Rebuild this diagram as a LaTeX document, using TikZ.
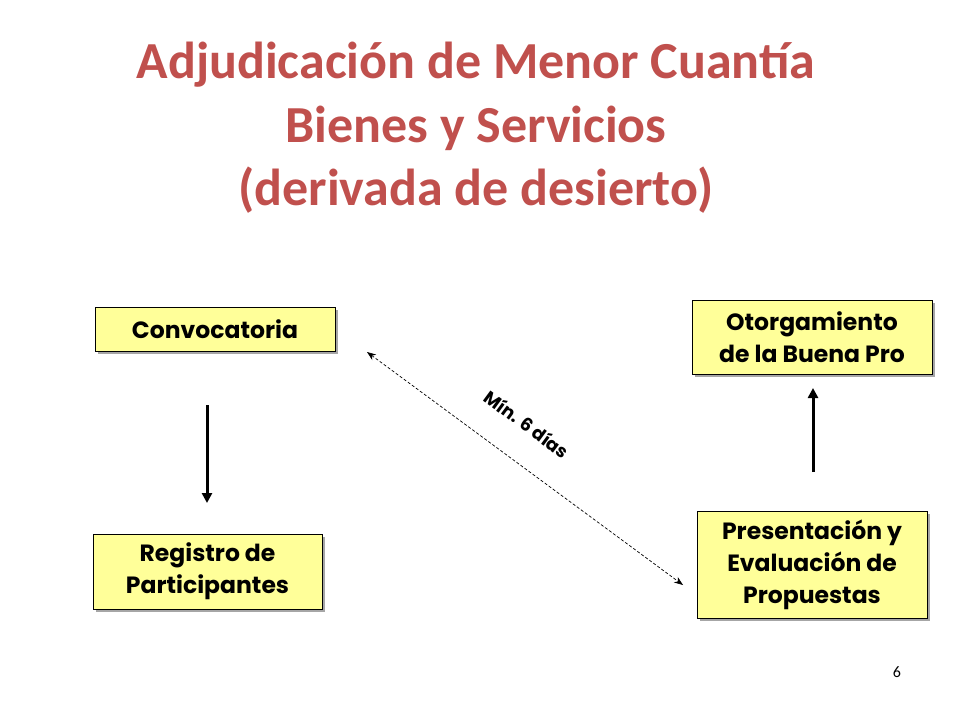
\documentclass[tikz,border=0pt]{standalone}
\usepackage{fontspec}
\setmainfont{Carlito}
\newfontfamily\boxfont{Poppins}
\usetikzlibrary{arrows.meta,shadows}
\definecolor{titlered}{HTML}{C0504D}
\definecolor{boxyellow}{HTML}{FFFF99}
\tikzset{
  stepbox/.style={draw=black,line width=1pt,fill=boxyellow,align=center,
    font=\boxfont\bfseries\fontsize{23.5}{32}\selectfont,inner sep=0pt,
    drop shadow={shadow xshift=3pt,shadow yshift=-3pt,fill=gray!70,opacity=1}},
  bigarrow/.style={line width=3pt,-{Triangle[length=10pt,width=10pt]}},
  dasharrow/.style={densely dashed,line width=0.7pt,{Stealth[length=9pt]}-{Stealth[length=9pt]}},
  titletext/.style={text=titlered,font=\bfseries\fontsize{52}{60}\selectfont}
}
\begin{document}
\begin{tikzpicture}[x=1pt,y=-1pt]
\useasboundingbox (0,0) rectangle (960,720);
\node[titletext] (t1) at (476,65) {Adjudicación de Menor Cuantía};
\node[titletext] (t2) at (476,128) {Bienes y Servicios};
\node[titletext] (t3) at (476,190) {(derivada de desierto)};
\node[stepbox,minimum width=240pt,minimum height=44pt] (conv) at (215,329) {Convocatoria};
\node[stepbox,minimum width=229pt,minimum height=75pt] (reg) at (207.5,571.5) {Registro de\\Participantes};
\node[stepbox,minimum width=240pt,minimum height=74pt] (oto) at (812,337) {Otorgamiento\\de la Buena Pro};
\node[stepbox,minimum width=230pt,minimum height=107pt] (pres) at (812,564.5) {Presentación y\\Evaluación de\\Propuestas};
\coordinate (a1) at (207,405);
\coordinate (a2) at (207,503);
\draw[bigarrow] (a1) -- (a2);
\coordinate (b1) at (813,472);
\coordinate (b2) at (813,388);
\draw[bigarrow] (b1) -- (b2);
\coordinate (d1) at (367,352);
\coordinate (d2) at (683,585);
\draw[dasharrow] (d1) -- (d2);
\node[font=\boxfont\bfseries\fontsize{18}{20}\selectfont,rotate=-36.4] (lbl) at (527,424) {Mín. 6 días};
\node[font=\fontsize{16}{18}\selectfont] (pg) at (897,672) {6};
\end{tikzpicture}
\end{document}
